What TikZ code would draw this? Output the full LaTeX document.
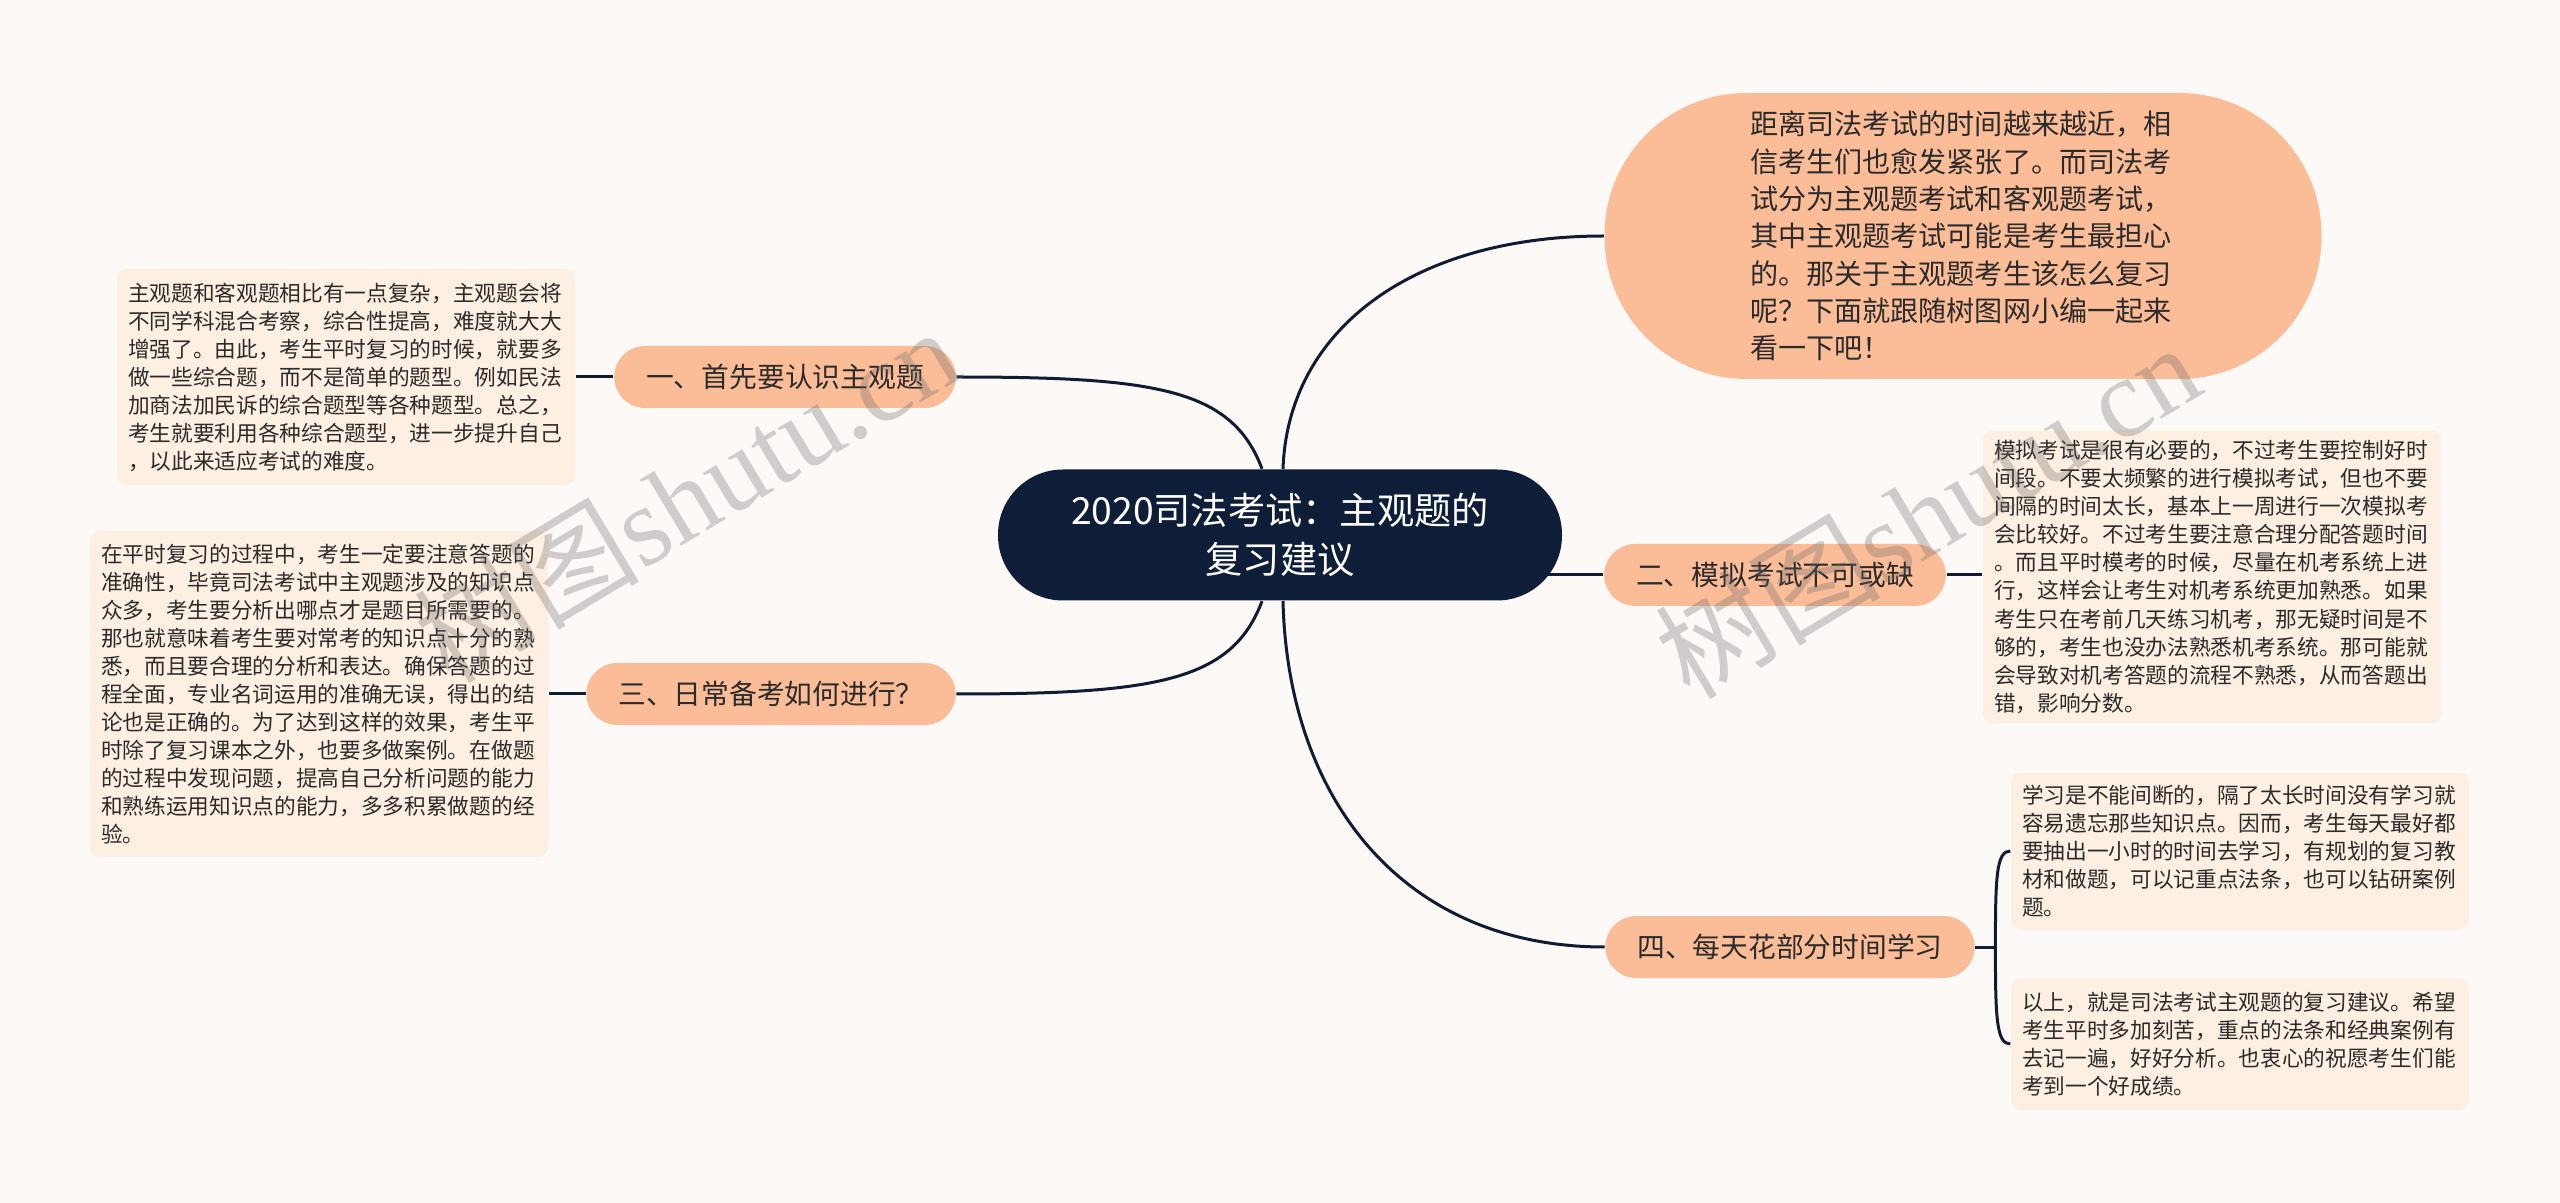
\documentclass[tikz,border=0pt]{standalone}
\usepackage{fontspec}
\newfontfamily\cjk{Noto Sans CJK SC}
\newfontfamily\wmlatin{Liberation Serif}
\usepackage{tikz}
\usetikzlibrary{backgrounds}
\definecolor{pagebg}{HTML}{FDF9F7}
\definecolor{navy}{HTML}{0F1E38}
\definecolor{linecol}{HTML}{101C33}
\definecolor{peach}{HTML}{FBBD98}
\definecolor{leafbg}{HTML}{FDEFE1}
\definecolor{ink}{HTML}{2B2B2B}

\begin{document}
\begin{tikzpicture}[x=0.1mm,y=-0.1mm,
  root/.style={fill=navy,text=white,rounded corners=6.5mm,minimum width=56.4mm,minimum height=13.1mm,align=center,font=\cjk\fontsize{10.6}{13.9}\selectfont},
  topic/.style={fill=peach,text=ink,rounded corners=3.1mm,minimum height=6.2mm,inner xsep=3.2mm,inner ysep=0mm,font=\cjk\fontsize{7.9}{9.5}\selectfont},
  intro/.style={fill=peach,text=ink,rounded corners=14.2mm,minimum width=71.7mm,minimum height=28.6mm,text width=42.6mm,align=left,font=\cjk\fontsize{8}{10.6}\selectfont},
  leaf/.style={fill=leafbg,text=ink,rounded corners=1mm,text width=43.6mm,inner xsep=1.1mm,inner ysep=1mm,align=left,font=\cjk\fontsize{6.17}{7.97}\selectfont},
  link/.style={draw=linecol,line width=0.3mm},
  wmark/.style={text=black!60,text opacity=0.3,rotate=31,font=\fontsize{32}{32}\selectfont}]
  \useasboundingbox (0,0) rectangle (2560,1203);

  \node[root] (c) at (1280,535) {2020司法考试：主观题的\\复习建议};
  \node[intro] (intro) at (1963,236) {距离司法考试的时间越来越近，相\\信考生们也愈发紧张了。而司法考\\试分为主观题考试和客观题考试，\\其中主观题考试可能是考生最担心\\的。那关于主观题考生该怎么复习\\呢？下面就跟随树图网小编一起来\\看一下吧！};

  \node[topic] (n1) at (785,377) {一、首先要认识主观题};
  \node[topic] (n2) at (1775,575) {二、模拟考试不可或缺};
  \node[topic] (n3) at (771,694) {三、日常备考如何进行？};
  \node[topic] (n4) at (1790,947) {四、每天花部分时间学习};

  \node[leaf,minimum height=21.6mm] (l1) at (346,377) {主观题和客观题相比有一点复杂，主观题会将\\不同学科混合考察，综合性提高，难度就大大\\增强了。由此，考生平时复习的时候，就要多\\做一些综合题，而不是简单的题型。例如民法\\加商法加民诉的综合题型等各种题型。总之，\\考生就要利用各种综合题型，进一步提升自己\\，以此来适应考试的难度。};
  \node[leaf,minimum height=29.2mm] (l2) at (2212,577) {模拟考试是很有必要的，不过考生要控制好时\\间段。不要太频繁的进行模拟考试，但也不要\\间隔的时间太长，基本上一周进行一次模拟考\\会比较好。不过考生要注意合理分配答题时间\\。而且平时模考的时候，尽量在机考系统上进\\行，这样会让考生对机考系统更加熟悉。如果\\考生只在考前几天练习机考，那无疑时间是不\\够的，考生也没办法熟悉机考系统。那可能就\\会导致对机考答题的流程不熟悉，从而答题出\\错，影响分数。};
  \node[leaf,minimum height=32.6mm] (l3) at (319,694) {在平时复习的过程中，考生一定要注意答题的\\准确性，毕竟司法考试中主观题涉及的知识点\\众多，考生要分析出哪点才是题目所需要的。\\那也就意味着考生要对常考的知识点十分的熟\\悉，而且要合理的分析和表达。确保答题的过\\程全面，专业名词运用的准确无误，得出的结\\论也是正确的。为了达到这样的效果，考生平\\时除了复习课本之外，也要多做案例。在做题\\的过程中发现问题，提高自己分析问题的能力\\和熟练运用知识点的能力，多多积累做题的经\\验。};
  \node[leaf,minimum height=15.7mm] (l4a) at (2240,851) {学习是不能间断的，隔了太长时间没有学习就\\容易遗忘那些知识点。因而，考生每天最好都\\要抽出一小时的时间去学习，有规划的复习教\\材和做题，可以记重点法条，也可以钻研案例\\题。};
  \node[leaf,minimum height=13.2mm] (l4b) at (2240,1044) {以上，就是司法考试主观题的复习建议。希望\\考生平时多加刻苦，重点的法条和经典案例有\\去记一遍，好好分析。也衷心的祝愿考生们能\\考到一个好成绩。};

  \coordinate (brace) at ([xshift=2mm]n4.east);

  \begin{scope}[on background layer]
    \fill[pagebg] (0,0) rectangle (2560,1203);
    \draw[link] ([xshift=-1.8mm]c.north) .. controls +(-30,-80) and +(200,0) .. (n1.east);
    \draw[link] ([xshift=0.3mm]c.north) .. controls +(5,-140) and +(-190,0) .. (intro.west);
    \draw[link] (c.center |- n2.west) -- (n2.west);
    \draw[link] ([xshift=0.3mm]c.south) .. controls +(5,200) and +(-200,0) .. (n4.west);
    \draw[link] ([xshift=-1.8mm]c.south) .. controls +(-30,80) and +(200,0) .. (n3.east);
    \draw[link] (n1.west) -- (l1.east);
    \draw[link] (n3.west) -- (l3.east);
    \draw[link] (n2.east) -- (n2.east -| l2.west);
    \draw[link] (n4.east) -- (brace);
    \draw[link] (brace) .. controls +(0,-70) and +(-14,0) .. (l4a.west);
    \draw[link] (brace) .. controls +(0,70) and +(-14,0) .. (l4b.west);
  \end{scope}

  \node[wmark] (wm1) at (686,494) {{\cjk 树图}{\wmlatin shutu.cn}};
  \node[wmark] (wm2) at (1927,510) {{\cjk 树图}{\wmlatin shutu.cn}};
\end{tikzpicture}
\end{document}
